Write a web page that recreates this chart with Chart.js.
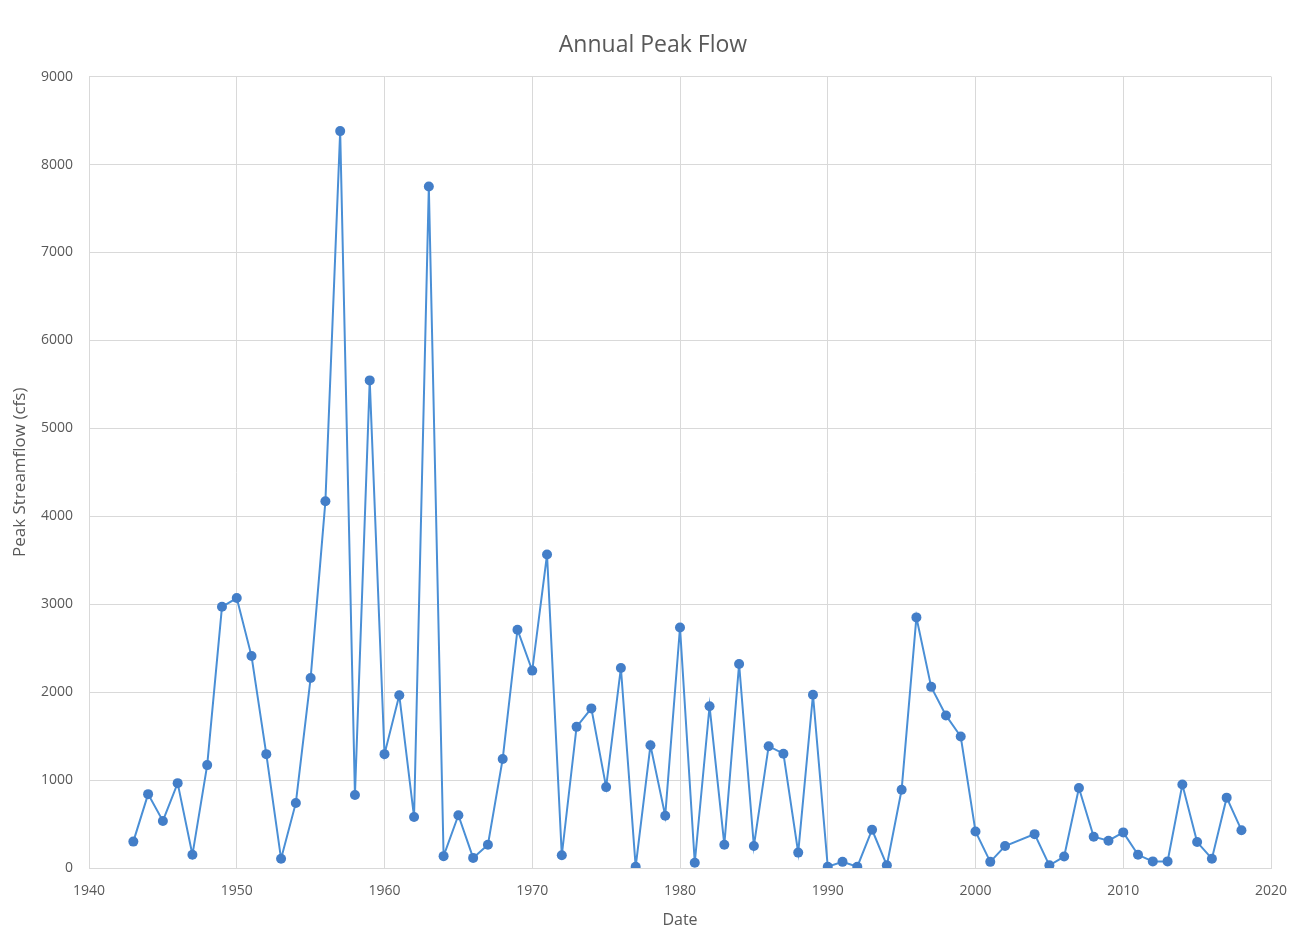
<!DOCTYPE html>
<html>
<head>
<meta charset="utf-8">
<script src="https://cdn.jsdelivr.net/npm/chart.js@4.4.1/dist/chart.umd.min.js"></script>
<style>
  html, body { margin: 0; padding: 0; background: #ffffff; }
  #wrap { width: 1299px; height: 937px; }
</style>
</head>
<body>
<div id="wrap"><canvas id="peakChart" width="1299" height="937"></canvas></div>
<script>
// water years with a recorded peak (no record for 2003)
const years = [
  1943, 1944, 1945, 1946, 1947, 1948, 1949, 1950, 1951, 1952,
  1953, 1954, 1955, 1956, 1957, 1958, 1959, 1960, 1961, 1962,
  1963, 1964, 1965, 1966, 1967, 1968, 1969, 1970, 1971, 1972,
  1973, 1974, 1975, 1976, 1977, 1978, 1979, 1980, 1981, 1982,
  1983, 1984, 1985, 1986, 1987, 1988, 1989, 1990, 1991, 1992,
  1993, 1994, 1995, 1996, 1997, 1998, 1999, 2000, 2001, 2002,
  2004, 2005, 2006, 2007, 2008, 2009, 2010, 2011, 2012, 2013,
  2014, 2015, 2016, 2017, 2018
];

// peak streamflow, cfs
const peakFlow = [
  300, 840, 535, 965, 150, 1170, 2970, 3070, 2410, 1295,
  105, 740, 2160, 4170, 8380, 830, 5545, 1295, 1965, 580,
  7750, 135, 600, 115, 265, 1240, 2710, 2245, 3565, 145,
  1605, 1815, 920, 2275, 15, 1395, 595, 2735, 60, 1840,
  265, 2320, 250, 1385, 1300, 175, 1970, 15, 70, 15,
  435, 30, 890, 2850, 2060, 1735, 1495, 415, 70, 250,
  385, 30, 130, 910, 355, 310, 405, 150, 75, 75,
  950, 295, 105, 800, 430
];

const xTicks = [1940, 1950, 1960, 1970, 1980, 1990, 2000, 2010, 2020];
const yTicks = [0, 1000, 2000, 3000, 4000, 5000, 6000, 7000, 8000, 9000];

const points = years.map((y, i) => ({ x: y, y: peakFlow[i] }));

const lineBlue = '#4a8fd6';
const markerBlue = '#437ec8';
const gridGrey = '#d9d9d9';
const textGrey = '#595959';

Chart.defaults.font.family = '"Open Sans", "Liberation Sans", sans-serif';
Chart.defaults.color = textGrey;

new Chart(document.getElementById('peakChart'), {
  type: 'scatter',
  data: {
    datasets: [{
      label: 'Peak Streamflow',
      data: points,
      showLine: true,
      borderColor: lineBlue,
      backgroundColor: markerBlue,
      borderWidth: 2,
      pointRadius: 5,
      pointBorderWidth: 0,
      tension: 0,
    }],
  },
  options: {
    responsive: false,
    animation: false,
    // left padding shifts the title centre to the right like the original
    layout: { padding: { left: 35, right: 28, top: 0, bottom: 0 } },
    plugins: {
      legend: { display: false },
      tooltip: { enabled: false },
      title: {
        display: true,
        text: 'Annual Peak Flow',
        color: textGrey,
        font: { size: 23, weight: 'normal' },
        padding: { top: 32, bottom: 17 },
      },
    },
    scales: {
      x: {
        type: 'linear',
        min: xTicks[0],
        max: xTicks[xTicks.length - 1],
        afterBuildTicks: s => { s.ticks = xTicks.map(v => ({ value: v })); },
        ticks: { color: textGrey, font: { size: 14 }, padding: 15, callback: v => String(v) },
        grid: { color: gridGrey, lineWidth: 1, drawTicks: false },
        border: { color: gridGrey },
        title: { display: true, text: 'Date', color: textGrey, font: { size: 16 }, padding: { top: 4, bottom: 7 } },
        afterFit: s => { s.height = 69; s.paddingLeft = 0; s.paddingRight = 0; },
      },
      y: {
        min: yTicks[0],
        max: yTicks[yTicks.length - 1],
        afterBuildTicks: s => { s.ticks = yTicks.map(v => ({ value: v })); },
        ticks: { color: textGrey, font: { size: 14 }, padding: 16, callback: v => String(v) },
        grid: { color: gridGrey, lineWidth: 1, drawTicks: false },
        border: { color: gridGrey },
        title: { display: true, text: 'Peak Streamflow (cfs)', color: textGrey, font: { size: 17 }, padding: { top: -25, bottom: 0 } },
        afterFit: s => { s.width = 54; s.paddingTop = 0; s.paddingBottom = 0; },
      },
    },
  },
});
</script>
</body>
</html>
